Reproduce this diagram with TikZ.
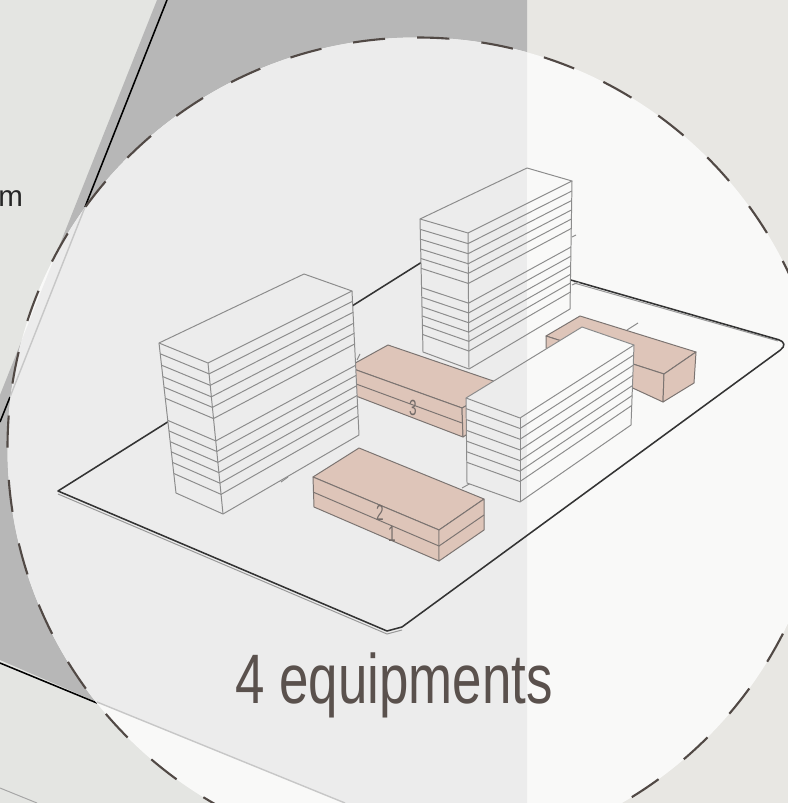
\documentclass[tikz,border=0pt]{standalone}
\usepackage{fontspec}
\usepackage{xcolor}
\usepackage{tikz}
\usetikzlibrary{calc}
\setmainfont{Liberation Sans}
\newfontfamily\narrowfont[FakeStretch=0.755]{Liberation Sans}
\newfontfamily\tinyfont[FakeStretch=0.62]{Liberation Sans}
\definecolor{paperleft}{HTML}{E4E5E2}
\definecolor{paperright}{HTML}{E8E7E3}
\definecolor{darkblock}{HTML}{B7B7B7}
\definecolor{lensdark}{HTML}{ECECEC}
\definecolor{lenslight}{HTML}{F9F9F8}
\definecolor{pinkblock}{HTML}{DEC5B9}
\definecolor{inkbrown}{HTML}{5A514D}

\begin{document}
\begin{tikzpicture}[
    x=0.25mm,y=-0.25mm,
    thinline/.style={draw=black!45, line width=0.7pt, line join=round},
    boxline/.style={draw=inkbrown!80, line width=0.7pt, fill=pinkblock, line join=round},
    boxedge/.style={draw=inkbrown!80, line width=0.7pt},
    plateline/.style={draw=black!80, line width=1.1pt, line join=round},
    plateshade/.style={draw=black!40, line width=0.7pt},
    roadline/.style={draw=black, line width=1.1pt},
    lensline/.style={draw=black!22, line width=1pt},
    ringdash/.style={draw=inkbrown!90!black, line width=1.5pt, dash pattern=on 8.05mm off 8.05mm},
    numlabel/.style={text=inkbrown!85, inner sep=0pt, font=\tinyfont\fontsize{15.6}{18}\selectfont}
]
    \clip (0,0) rectangle (788,803);

    % --- Paper and dark block ---
    \coordinate (tl) at (0,0);
    \coordinate (tm) at (527,0);
    \coordinate (bm) at (527,803);
    \coordinate (br) at (788,803);
    \coordinate (d1) at (157,0);
    \coordinate (d2) at (0,395);
    \coordinate (d3) at (0,660);
    \coordinate (d4) at (97,702);
    \coordinate (d5) at (345,803);
    \fill[paperleft] (tl) rectangle (bm);
    \fill[paperright] (tm) rectangle (br);
    \fill[darkblock] (d1) -- (tm) -- (bm) -- (d5) -- (d4) -- (d3) -- (d2) -- cycle;

    % road edges
    \coordinate (r1) at (167,0);
    \coordinate (r2) at (85,207);
    \coordinate (r3) at (10,397);
    \coordinate (r4) at (0,422);
    \coordinate (r5) at (0,663);
    \coordinate (r6) at (97,703);
    \coordinate (s1) at (0,788);
    \coordinate (s2) at (37,803);
    \draw[roadline] (r1) -- (r2);
    \draw[roadline] (r3) -- (r4);
    \draw[roadline] (r5) -- (r6);
    \draw[draw=black!35, line width=0.7pt] (s1) -- (s2);
    \node[anchor=base west, inner sep=0pt, text=black!85, font=\fontsize{21}{24}\selectfont] (unit) at (-2,207) {m};

    % --- Lens ---
    \coordinate (hub) at (417.5,447.5);
    \fill[lenslight] (hub) circle [radius=410];
    \begin{scope}
        \clip (hub) circle [radius=410];
        \fill[lensdark] (d1) -- (tm) -- (bm) -- (d5) -- (d4) -- (d3) -- (d2) -- cycle;
        \draw[lensline] (r2) -- (r3);
        \draw[lensline] (d4) -- (d5);
    \end{scope}

    % --- Plate ---
    \coordinate (p1) at (449,245);
    \coordinate (p2) at (58,491);
    \coordinate (p3) at (387,631);
    \coordinate (p4) at (402,627);
    \coordinate (p5) at (790,343);
    \draw[plateshade] (58,494) -- (387,634) -- (402,630);
    \draw[plateshade] (574,283) -- (778,341);
    \draw[plateline] (p1) -- (p2) -- (p3) -- (p4) [rounded corners=3mm] -- (p5) -- cycle;

    % stray ticks
    \draw[thinline] (357,360) -- (360,354);
    \draw[thinline] (572,237) -- (576,235);
    \draw[thinline] (572,285) -- (579,282);
    \draw[thinline] (627,330) -- (638,323);
    \draw[thinline] (462,488) -- (471,483);
    \draw[thinline] (281,482) -- (288,477);

    % --- Block 3 ---
    \draw[boxline] (348,367) -- (388,345) -- (505,385) -- (462,408) -- cycle;
    \draw[boxline] (348,367) -- (462,408) -- (463,437) -- (348,393) -- cycle;
    \draw[boxline] (462,408) -- (505,385) -- (505,410) -- (463,437) -- cycle;
    \draw[boxedge] (348,381) -- (462,423);
    \node[numlabel] (three) at (413,408) {3};

    % --- Blocks 1 and 2 ---
    \draw[boxline] (313,477) -- (359,448) -- (484,499) -- (439,530) -- cycle;
    \draw[boxline] (313,477) -- (439,530) -- (439,561) -- (314,507) -- cycle;
    \draw[boxline] (439,530) -- (484,499) -- (484,530) -- (439,561) -- cycle;
    \draw[boxedge] (313,492) -- (439,546) -- (484,515);
    \node[numlabel] (two) at (380,513) {2};
    \node[numlabel] (one) at (392,534) {1};

    % --- Block 4 ---
    \draw[boxline] (546,336) -- (580,316) -- (696,352) -- (664,374) -- cycle;
    \draw[boxline] (546,336) -- (664,374) -- (663,402) -- (546,348) -- cycle;
    \draw[boxline] (664,374) -- (696,352) -- (694,383) -- (663,402) -- cycle;

    % --- Left tower ---
    \coordinate (al) at (159,343);
    \coordinate (ab) at (304,274);
    \coordinate (ar) at (352,291);
    \coordinate (ac) at (208,363);
    \coordinate (alb) at (176,493);
    \coordinate (acb) at (223,514);
    \coordinate (arb) at (359,435);
    \fill[lensdark] (al) -- (ab) -- (ar) -- (arb) -- (acb) -- (alb) -- cycle;
    \draw[thinline] (al) -- (ab) -- (ar) -- (ac) -- cycle;
    \draw[thinline] (al) -- (alb) -- (acb) -- (arb) -- (ar);
    \draw[thinline] (ac) -- (acb);
    \foreach \t in {.072,.148,.224,.294,.368,.516,.586,.658,.726,.796,.87}
        \draw[thinline] ($(al)!\t!(alb)$) -- ($(ac)!\t!(acb)$) -- ($(ar)!\t!(arb)$);

    % --- Back tower ---
    \coordinate (bl) at (420,219);
    \coordinate (bb) at (527,168);
    \coordinate (br2) at (572,181);
    \coordinate (bc) at (468,233);
    \coordinate (blb) at (423,352);
    \coordinate (bcb) at (469,369);
    \coordinate (brb) at (570,309);
    \fill[lensdark] (bl) -- (bb) -- (br2) -- (brb) -- (bcb) -- (blb) -- cycle;
    \begin{scope}
        \clip (tm) rectangle (br);
        \fill[lenslight] (bl) -- (bb) -- (br2) -- (brb) -- (bcb) -- (blb) -- cycle;
    \end{scope}
    \draw[thinline] (bl) -- (bb) -- (br2) -- (bc) -- cycle;
    \draw[thinline] (bl) -- (blb) -- (bcb) -- (brb) -- (br2);
    \draw[thinline] (bc) -- (bcb);
    \foreach \t in {.078,.152,.226,.297,.371,.516,.588,.66,.729,.797,.868}
        \draw[thinline] ($(bl)!\t!(blb)$) -- ($(bc)!\t!(bcb)$) -- ($(br2)!\t!(brb)$);

    % --- Front tower ---
    \coordinate (fl) at (466,398);
    \coordinate (fb) at (582,327);
    \coordinate (fr) at (634,345);
    \coordinate (fc) at (520,418);
    \coordinate (flb) at (467,483);
    \coordinate (fcb) at (520,502);
    \coordinate (frb) at (631,425);
    \fill[lensdark] (fl) -- (fb) -- (fr) -- (frb) -- (fcb) -- (flb) -- cycle;
    \begin{scope}
        \clip (tm) rectangle (br);
        \fill[lenslight] (fl) -- (fb) -- (fr) -- (frb) -- (fcb) -- (flb) -- cycle;
    \end{scope}
    \draw[thinline] (fl) -- (fb) -- (fr) -- (fc) -- cycle;
    \draw[thinline] (fl) -- (flb) -- (fcb) -- (frb) -- (fr);
    \draw[thinline] (fc) -- (fcb);
    \foreach \t in {.125,.253,.38,.507,.632,.756}
        \draw[thinline] ($(fl)!\t!(flb)$) -- ($(fc)!\t!(fcb)$) -- ($(fr)!\t!(frb)$);

    % --- Caption and ring ---
    \node[anchor=base west, inner sep=0pt, text=inkbrown, font=\narrowfont\fontsize{49.8}{60}\selectfont] (caption) at (235,703) {4 equipments};
    \draw[ringdash] (hub) circle [radius=410];
\end{tikzpicture}
\end{document}
